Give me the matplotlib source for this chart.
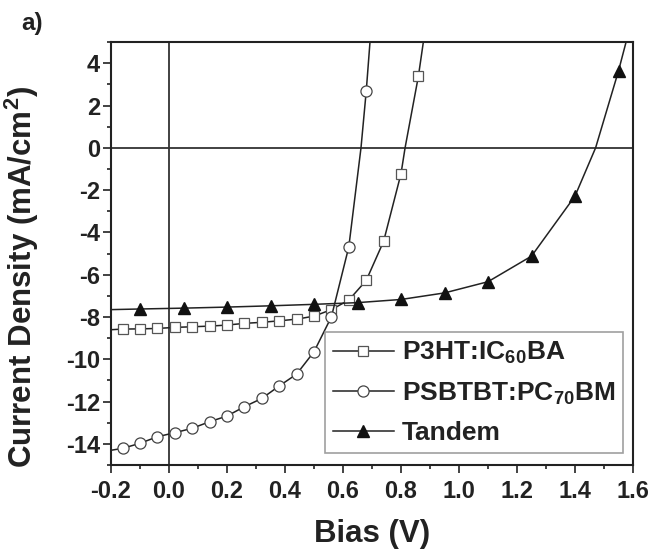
import matplotlib
matplotlib.use("Agg")
import matplotlib.pyplot as plt
from matplotlib.ticker import MultipleLocator

# J-V curves (V in volts, J in mA/cm^2)
# first / last entries are where the drawn line meets the frame
p3ht_v = [-0.2, -0.16, -0.10, -0.04, 0.02, 0.08, 0.14, 0.20, 0.26, 0.32, 0.38,
          0.44, 0.50, 0.56, 0.62, 0.68, 0.74, 0.80, 0.814, 0.86, 0.877]
p3ht_j = [-8.60, -8.57, -8.56, -8.54, -8.49, -8.46, -8.43, -8.38, -8.30, -8.25, -8.18,
          -8.10, -7.96, -7.65, -7.20, -6.27, -4.42, -1.22, 0.0, 3.39, 5.0]
p3ht_marks = [1, 2, 3, 4, 5, 6, 7, 8, 9, 10, 11, 12, 13, 14, 15, 16, 17, 19]

psbtbt_v = [-0.2, -0.16, -0.10, -0.04, 0.02, 0.08, 0.14, 0.20, 0.26, 0.32, 0.38,
            0.44, 0.50, 0.56, 0.62, 0.662, 0.68, 0.693]
psbtbt_j = [-14.30, -14.21, -13.97, -13.66, -13.47, -13.26, -12.95, -12.68, -12.24, -11.85, -11.26,
            -10.70, -9.64, -7.99, -4.68, 0.0, 2.67, 5.0]
psbtbt_marks = [1, 2, 3, 4, 5, 6, 7, 8, 9, 10, 11, 12, 13, 14, 16]

tandem_v = [-0.2, -0.10, 0.05, 0.20, 0.35, 0.50, 0.65, 0.80, 0.95, 1.10, 1.25,
            1.40, 1.471, 1.55, 1.576]
tandem_j = [-7.65, -7.62, -7.58, -7.53, -7.47, -7.40, -7.32, -7.17, -6.86, -6.33, -5.12,
            -2.28, 0.0, 3.64, 5.0]
tandem_marks = [1, 2, 3, 4, 5, 6, 7, 8, 9, 10, 11, 13]

labels = ["P3HT:IC$_{60}$BA", "PSBTBT:PC$_{70}$BM", "Tandem"]

plt.rcParams["font.family"] = ["Liberation Sans", "DejaVu Sans"]
plt.rcParams["font.weight"] = "bold"
plt.rcParams["mathtext.fontset"] = "custom"
plt.rcParams["mathtext.rm"] = "Liberation Sans:bold"
plt.rcParams["mathtext.it"] = "Liberation Sans:bold"
plt.rcParams["mathtext.bf"] = "Liberation Sans:bold"
plt.rcParams["mathtext.default"] = "rm"

ink = "#222222"

fig = plt.figure(figsize=(6.53, 5.53), dpi=100)
ax = fig.add_axes([0.170, 0.159, 0.7994, 0.7649])

# zero reference lines
ax.axhline(0, color="#333333", linewidth=1.3, zorder=1)
ax.axvline(0, color="#333333", linewidth=1.3, zorder=1)

ax.plot(p3ht_v, p3ht_j, color=ink, linewidth=1.1, marker="s", markersize=6.8,
        markerfacecolor="white", markeredgecolor="#555555", markeredgewidth=0.9,
        markevery=p3ht_marks, label=labels[0], zorder=3)
ax.plot(psbtbt_v, psbtbt_j, color=ink, linewidth=1.1, marker="o", markersize=8.0,
        markerfacecolor="white", markeredgecolor="#444444", markeredgewidth=0.9,
        markevery=psbtbt_marks, label=labels[1], zorder=4)
ax.plot(tandem_v, tandem_j, color=ink, linewidth=1.1, marker="^", markersize=8.6,
        markerfacecolor="#111111", markeredgecolor="#111111",
        markevery=tandem_marks, label=labels[2], zorder=5)

ax.set_xlim(-0.2, 1.6)
ax.set_ylim(-15, 5)
ax.xaxis.set_major_locator(MultipleLocator(0.2))
ax.xaxis.set_minor_locator(MultipleLocator(0.1))
ax.yaxis.set_major_locator(MultipleLocator(2))
ax.yaxis.set_minor_locator(MultipleLocator(1))
ax.xaxis.set_major_formatter(matplotlib.ticker.FuncFormatter(lambda x, p: f"{x:.1f}"))
ax.yaxis.set_major_formatter(matplotlib.ticker.FuncFormatter(lambda y, p: f"{y:.0f}"))

ax.tick_params(which="major", direction="out", length=5.5, width=1.2, colors=ink,
               labelsize=17, top=False, right=False)
ax.tick_params(axis="x", which="major", pad=5)
ax.tick_params(axis="y", which="major", pad=2.5)
ax.tick_params(which="minor", direction="out", length=3, width=1.2, colors=ink,
               top=False, right=False)
for s in ax.spines.values():
    s.set_linewidth(1.5)
    s.set_color(ink)

ax.set_xlabel("Bias (V)", fontsize=22.5, fontweight="bold", color=ink, labelpad=12)
ax.set_ylabel("Current Density (mA/cm$^2$)", fontsize=22.5, fontweight="bold", color=ink)
ax.yaxis.set_label_coords(-0.134, 0.445)

leg = ax.legend(loc="lower right", bbox_to_anchor=(0.981, 0.028), borderaxespad=0,
                fontsize=19, frameon=True, fancybox=False, handlelength=2.3,
                handletextpad=0.3, labelspacing=0.55, borderpad=0.3)
leg.get_frame().set_edgecolor("#888888")
leg.get_frame().set_linewidth(1.2)
for t in leg.get_texts():
    t.set_color(ink)

fig.text(0.032, 0.978, "a)", fontsize=17.5, fontweight="bold", color=ink, va="top")

fig.savefig("out.png", dpi=100)
